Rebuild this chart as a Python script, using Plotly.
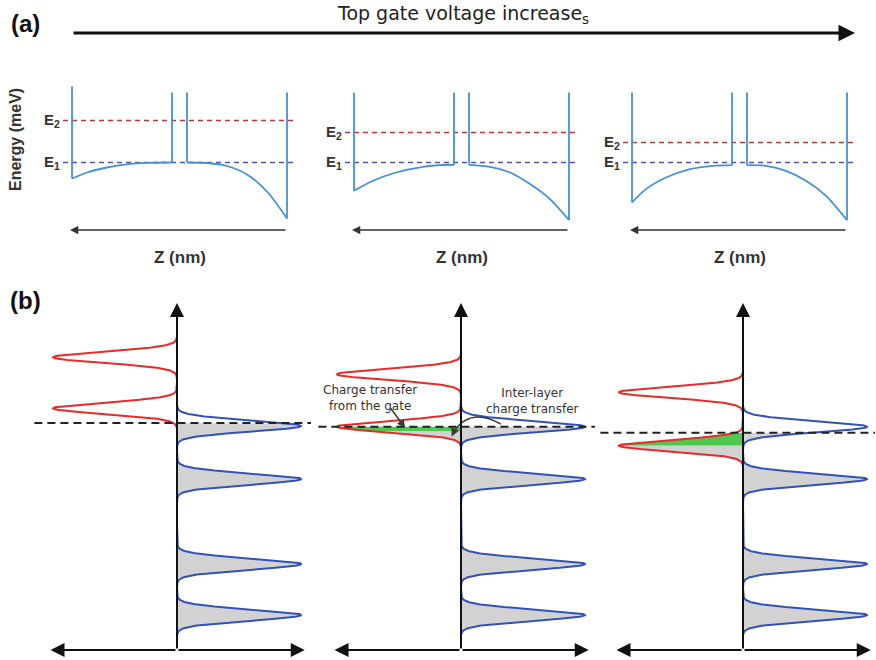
import numpy as np
import plotly.graph_objects as go

FIG_W, FIG_H = 876, 660

# ---------------- (a) conduction-band profiles (z in nm, energy in meV, E1 = 0) ----------------
WELL_EDGES_NM = [0.0, 10.0, 11.5, 21.5]            # outer wall, barrier left, barrier right, outer wall
WALL_TOP_MEV = [[76, 70, 70, 70], [70, 70, 70, 70], [70, 70, 70, 70]]
E1_MEV = [0.0, 0.0, 0.0]
E2_MEV = [42.0, 30.0, 20.0]

LEFT_Z = [[0, 1.5, 3.5, 5.5, 7.5, 10],
          [0, 1.9, 4.2, 6.9, 8.9, 10],
          [0, 1.4, 3.4, 5.8, 8.1, 10]]
LEFT_E = [[-16, -10, -5, -1.8, -0.4, 0],
          [-28.3, -18.3, -10, -4.3, -2.5, -2.3],
          [-40, -26.6, -15, -6.6, -3.3, -2.6]]
RIGHT_Z = [[11.5, 13.5, 15.5, 17.5, 19.5, 21.5],
           [11.5, 13.6, 15.6, 17.6, 19.6, 21.5],
           [11.5, 13.4, 15.4, 17.4, 19.4, 21.5]]
RIGHT_E = [[0, -0.5, -3.5, -12, -29, -56],
           [-2.3, -4.3, -10, -21.6, -36.6, -57.6],
           [-2.6, -3.3, -8.3, -18.3, -33.3, -57.6]]

# ---------------- (b) density of states of the two layers ----------------
DOS_SIGMA = 5.5                     # meV, broadening of each Landau level
PEAK_HEIGHT = 1.0
FERMI_MEV = [0.0, -3.7, -9.7]
GATE_FILL_FLOOR = [None, -8.5, -22.7]
TOP_LAYER_PEAKS = [[65.7, 14.7], [48.7, -3.7], [30.7, -22.7]]
BOTTOM_LAYER_PEAKS = [[-3.0, -56.0, -141.0, -192.0],
                      [-3.7, -56.0, -141.0, -192.0],
                      [-3.7, -56.0, -141.0, -192.0]]

TITLE = "Top gate voltage increase<sub>s</sub>"

BAND_BLUE = "#4690d6"
E2_RED = "#b23c3c"
E1_BLUE = "#5252b0"
DOS_BLUE = "#3352b8"
DOS_RED = "#ea2a2a"
FILL_GRAY = "#d2d2d2"
FILL_GREEN = "#4fc84f"
INK = "#222222"
TEXT = "#333333"
SANS = "Liberation Sans, Arial"
WIDE_SANS = "DejaVu Sans"


def px_x(p):
    return p / FIG_W


def px_y(p):
    return 1 - p / FIG_H


fig = go.Figure()
layout_axes = {}

# subplot geometry (pixel domains)
A_XDOM = [(57, 302), (339, 584), (617, 862)]
A_YDOM = (82.5, 262.5)
A_XRANGE = [-1.5, 23.0]
A_YRANGE = [-100, 80]

B_XDOM = [(30.68, 313.4), (314.68, 597.4), (596.68, 875.06)]
B_YDOM = (298, 653)
B_XRANGES = [[-1.18, 1.1], [-1.18, 1.1], [-1.18, 1.065]]
B_YRANGE = [-230, 125]


def add_axes(n, xdom, ydom, xr, yr):
    sx = "" if n == 1 else str(n)
    layout_axes["xaxis" + sx] = dict(domain=[px_x(xdom[0]), px_x(xdom[1])], range=xr,
                                     visible=False, anchor="y" + sx, fixedrange=True)
    layout_axes["yaxis" + sx] = dict(domain=[px_y(ydom[1]), px_y(ydom[0])], range=yr,
                                     visible=False, anchor="x" + sx, fixedrange=True)
    return ("x" + sx, "y" + sx)


annotations = []
shapes = []

# ---------- panel (a) ----------
for i in range(3):
    xa, ya = add_axes(i + 1, A_XDOM[i], A_YDOM, A_XRANGE, A_YRANGE)
    z0, z1, z2, z3 = WELL_EDGES_NM
    tops = WALL_TOP_MEV[i]
    bottoms = [LEFT_E[i][0], LEFT_E[i][-1], RIGHT_E[i][0], RIGHT_E[i][-1]]

    # subband levels
    for lvl, col in ((E2_MEV[i], E2_RED), (E1_MEV[i], E1_BLUE)):
        fig.add_trace(go.Scatter(x=[z0 - 0.9, z3 + 0.6], y=[lvl, lvl], mode="lines",
                                 line=dict(color=col, width=1.6, dash="5px,4px"),
                                 xaxis=xa, yaxis=ya, hoverinfo="skip"))

    # walls
    wx, wy = [], []
    for z, b, t in zip(WELL_EDGES_NM, bottoms, tops):
        wx += [z, z, None]
        wy += [b, t, None]
    fig.add_trace(go.Scatter(x=wx, y=wy, mode="lines", line=dict(color=BAND_BLUE, width=1.8),
                             xaxis=xa, yaxis=ya, hoverinfo="skip"))
    # band bending in each well
    for zz, ee in ((LEFT_Z[i], LEFT_E[i]), (RIGHT_Z[i], RIGHT_E[i])):
        fig.add_trace(go.Scatter(x=zz, y=ee, mode="lines",
                                 line=dict(color=BAND_BLUE, width=1.8, shape="spline", smoothing=0.8),
                                 xaxis=xa, yaxis=ya, hoverinfo="skip"))

    # level labels
    for lvl, lab in ((E2_MEV[i], "E<sub>2</sub>"), (E1_MEV[i], "E<sub>1</sub>")):
        annotations.append(dict(x=z0 - 1.0, y=lvl, xref=xa, yref=ya, text=lab, showarrow=False,
                                xanchor="right", yanchor="middle",
                                font=dict(family=SANS, size=15, color=TEXT, weight="bold")))
    # z direction arrow
    annotations.append(dict(x=z0 - 0.2, y=-67.5, ax=z3, ay=-67.5, xref=xa, yref=ya, axref=xa, ayref=ya,
                            text="", showarrow=True, arrowhead=2, arrowsize=1.1, arrowwidth=1.5,
                            arrowcolor=TEXT, standoff=0))
    annotations.append(dict(x=(z0 + z3) / 2 + 0.05, y=-94.5, xref=xa, yref=ya, text="Z (nm)", showarrow=False,
                            xanchor="center", yanchor="middle",
                            font=dict(family=SANS, size=17, color=TEXT, weight="bold")))


# ---------- panel (b) ----------
def dos(e, peaks):
    e = np.asarray(e, float)
    return PEAK_HEIGHT * sum(np.exp(-((e - p) ** 2) / (2 * DOS_SIGMA ** 2)) for p in peaks)


def energy_grid(peaks):
    return np.arange(max(peaks) + 20, min(peaks) - 20 - 1e-9, -0.25)


def filled_region(peaks, e_hi, e_lo, sign):
    e_lo = max(e_lo, min(peaks) - 20)
    e = np.arange(e_hi, e_lo, -0.25)
    e = np.append(e, e_lo)
    x = sign * dos(e, peaks)
    xs = np.concatenate([[0.0], x, [0.0]])
    ys = np.concatenate([[e_hi], e, [e_lo]])
    return xs, ys


for i in range(3):
    xa, ya = add_axes(4 + i, B_XDOM[i], B_YDOM, B_XRANGES[i], B_YRANGE)
    top = TOP_LAYER_PEAKS[i]
    bot = BOTTOM_LAYER_PEAKS[i]
    ef = FERMI_MEV[i]

    # occupied states of the bottom layer
    fx, fy = filled_region(bot, ef, -1e9, +1)
    fig.add_trace(go.Scatter(x=fx, y=fy, mode="lines", fill="toself", fillcolor=FILL_GRAY,
                             line=dict(width=0), xaxis=xa, yaxis=ya, hoverinfo="skip"))
    # occupied states of the top layer (gate-induced part in green)
    floor = GATE_FILL_FLOOR[i]
    if floor is not None:
        gx, gy = filled_region(top, ef, floor, -1)
        fig.add_trace(go.Scatter(x=gx, y=gy, mode="lines", fill="toself", fillcolor=FILL_GREEN,
                                 line=dict(width=0), xaxis=xa, yaxis=ya, hoverinfo="skip"))
        rx, ry = filled_region(top, floor, -1e9, -1)
        fig.add_trace(go.Scatter(x=rx, y=ry, mode="lines", fill="toself", fillcolor=FILL_GRAY,
                                 line=dict(width=0), xaxis=xa, yaxis=ya, hoverinfo="skip"))

    # DOS curves
    et = energy_grid(top)
    fig.add_trace(go.Scatter(x=-dos(et, top), y=et, mode="lines", line=dict(color=DOS_RED, width=2),
                             xaxis=xa, yaxis=ya, hoverinfo="skip"))
    eb = energy_grid(bot)
    fig.add_trace(go.Scatter(x=dos(eb, bot), y=eb, mode="lines", line=dict(color=DOS_BLUE, width=2),
                             xaxis=xa, yaxis=ya, hoverinfo="skip"))

    # Fermi level
    fig.add_trace(go.Scatter(x=[-1.15, 1.08], y=[ef, ef], mode="lines",
                             line=dict(color=INK, width=2, dash="8px,5px"),
                             xaxis=xa, yaxis=ya, hoverinfo="skip"))

    # energy and DOS axes
    arrow = dict(text="", showarrow=True, arrowhead=2, arrowsize=1.4, arrowwidth=2,
                 arrowcolor="#111111", standoff=0, xref=xa, yref=ya, axref=xa, ayref=ya)
    annotations.append(dict(arrow, x=0, y=120, ax=0, ay=-227))
    annotations.append(dict(arrow, x=-1.02, y=-227, ax=0, ay=-227))
    annotations.append(dict(arrow, x=1.03, y=-227, ax=0, ay=-227))

    if i == 1:
        tfont = dict(family=WIDE_SANS, size=12, color=TEXT)
        annotations.append(dict(x=-0.734, y=25.5, xref=xa, yref=ya, text="Charge transfer<br>from the gate",
                                showarrow=False, font=tfont, align="center",
                                xanchor="center", yanchor="middle"))
        annotations.append(dict(x=0.58, y=22, xref=xa, yref=ya, text="Inter-layer<br>charge transfer",
                                showarrow=False, font=tfont, align="center",
                                xanchor="center", yanchor="middle"))
        annotations.append(dict(x=-0.45, y=-5, ax=-0.575, ay=16, xref=xa, yref=ya, axref=xa, ayref=ya,
                                text="", showarrow=True, arrowhead=2, arrowsize=1.1, arrowwidth=1.5,
                                arrowcolor="#3a3a3a", standoff=0))
        shapes.append(dict(type="path", xref=xa, yref=ya,
                           path="M 0.32,-1 Q 0.08,16 -0.055,-8",
                           line=dict(color="#3a3a3a", width=1.5)))
        annotations.append(dict(x=-0.075, y=-13.5, ax=-0.055, ay=-8, xref=xa, yref=ya, axref=xa, ayref=ya,
                                text="", showarrow=True, arrowhead=2, arrowsize=1.1, arrowwidth=1.5,
                                arrowcolor="#3a3a3a", standoff=0))

# ---------- figure-level labels ----------
center = dict(xref="paper", yref="paper", showarrow=False, xanchor="center", yanchor="middle")
annotations.append(dict(center, x=px_x(25), y=px_y(23), text="(a)",
                        font=dict(family=SANS, size=24, color="#111111", weight="bold")))
annotations.append(dict(center, x=px_x(25), y=px_y(300), text="(b)",
                        font=dict(family=SANS, size=24, color="#111111", weight="bold")))
annotations.append(dict(center, x=px_x(463), y=px_y(15), text=TITLE,
                        font=dict(family=WIDE_SANS, size=19, color=INK)))
annotations.append(dict(x=px_x(855), y=px_y(33), ax=72 - 855, ay=0, xref="paper", yref="paper",
                        axref="pixel", ayref="pixel", text="", showarrow=True, arrowhead=2, arrowsize=1.1,
                        arrowwidth=3, arrowcolor="#111111", standoff=0))
annotations.append(dict(center, x=px_x(15), y=px_y(140), text="Energy (meV)", textangle=-90,
                        font=dict(family=SANS, size=16, color=TEXT, weight="bold")))

fig.update_layout(width=FIG_W, height=FIG_H, margin=dict(l=0, r=0, t=0, b=0), template="none",
                  paper_bgcolor="white", plot_bgcolor="rgba(0,0,0,0)", showlegend=False,
                  annotations=annotations, shapes=shapes, **layout_axes)

fig.write_html("out.html")
